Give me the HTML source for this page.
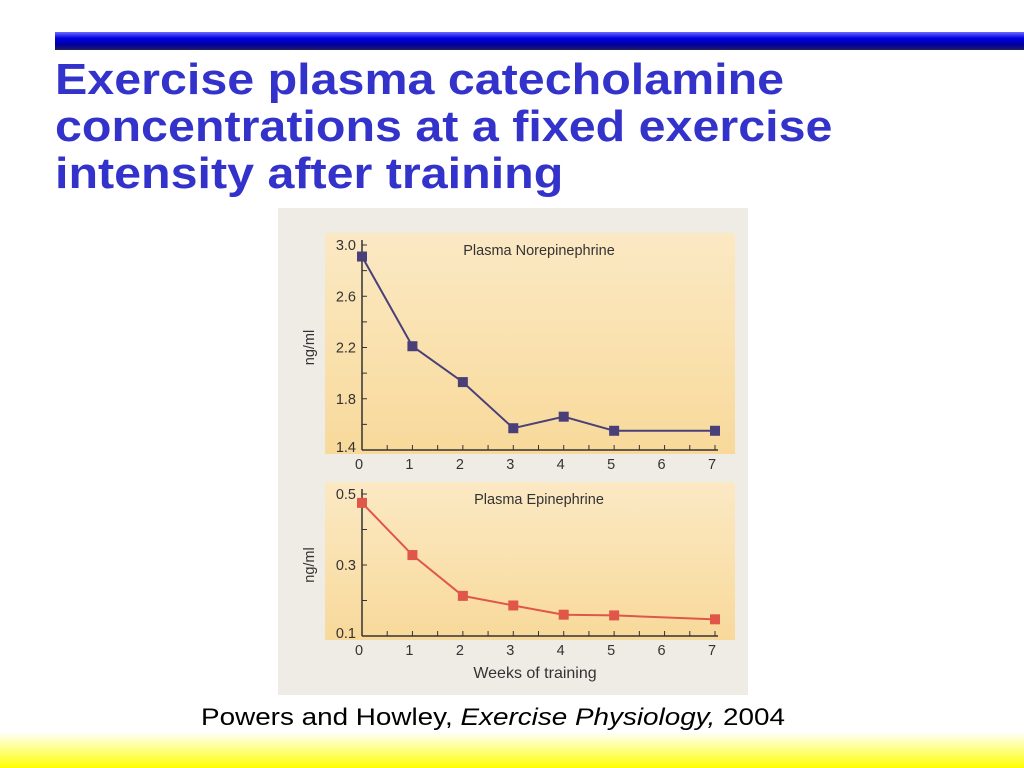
<!DOCTYPE html>
<html><head><meta charset="utf-8"><style>
body{margin:0;width:1024px;height:768px;background:#fff;position:relative;overflow:hidden;font-family:"Liberation Sans",sans-serif}
#bar{position:absolute;left:55px;top:32px;width:969px;height:18px;background:linear-gradient(180deg,#6a6aff 0%,#0000e0 35%,#0000a0 70%,#202060 100%)}
#title{position:absolute;left:55px;top:56px;color:#3333cc;font-weight:bold;font-size:44px;line-height:47px;transform:scaleX(1.1);transform-origin:left top;white-space:nowrap}
#foot{position:absolute;left:0;top:732px;width:1024px;height:36px;background:linear-gradient(180deg,#fff 0%,#ffff80 50%,#ffff00 100%)}
#cap{position:absolute;left:0;width:986px;text-align:center;top:704px;font-size:24px;transform:scaleX(1.16);transform-origin:493px 0}
</style></head><body>
<div id="bar"></div>
<div id="title">Exercise plasma catecholamine<br>concentrations at a fixed exercise<br>intensity after training</div>
<svg id="fig" style="position:absolute;left:0;top:0" width="1024" height="768"></svg>
<div id="cap">Powers and Howley, <i>Exercise Physiology,</i> 2004</div>
<div id="foot"></div>
<script>
const weeks=[0,1,2,3,4,5,7];
const norepi=[2.91,2.21,1.93,1.57,1.66,1.55,1.55];
const epi=[0.475,0.328,0.213,0.186,0.16,0.158,0.147];
const xTicks=[0,1,2,3,4,5,6,7];
const nTicks=[1.4,1.8,2.2,2.6,3.0];
const nMinor=[1.6,2.0,2.4,2.8];
const eTicks=[0.1,0.3,0.5];
const eMinor=[0.2,0.4];
const NS="http://www.w3.org/2000/svg";
const svg=document.getElementById('fig');
function mk(t,a,p){const e=document.createElementNS(NS,t);for(const k in a)e.setAttribute(k,a[k]);(p||svg).appendChild(e);return e;}
let bg=mk('rect',{x:278,y:208,width:470,height:487,fill:'#efece6'});

const defs=mk('defs',{});
const g=mk('linearGradient',{id:'pg',x1:0,y1:0,x2:0,y2:1},defs);
mk('stop',{offset:'0','stop-color':'#fbe9c4'},g);mk('stop',{offset:'1','stop-color':'#f8d99a'},g);
function panel(name,top,bottom,vmin,vmax,vals,ticks,minor,color,label){
  const x0=362,x1=715;
  const xs=w=>x0+(x1-x0)*w/7;
  const ys=v=>bottom-(bottom-top)*(v-vmin)/(vmax-vmin);
  let r=mk('rect',{x:325,y:top-12,width:410,height:bottom-top+16,fill:'url(#pg)'});
  
  mk('line',{x1:x0,y1:top-5,x2:x0,y2:bottom,stroke:'#333','stroke-width':1.5});
  mk('line',{x1:x0,y1:bottom,x2:x1+3,y2:bottom,stroke:'#333','stroke-width':1.5});
  ticks.forEach(v=>{mk('line',{x1:x0,y1:ys(v),x2:x0+5,y2:ys(v),stroke:'#333'});
    let t=mk('text',{x:x0-6,y:ys(v)+(v==vmin?2:5),'text-anchor':'end','font-size':14.5,fill:'#333'});t.textContent=v.toFixed(1);
    });
  minor.forEach(v=>mk('line',{x1:x0,y1:ys(v),x2:x0+5,y2:ys(v),stroke:'#333'}));
  for(let i=0;i<=14;i++){const xv=x0+(x1-x0)*i/14;mk('line',{x1:xv,y1:bottom,x2:xv,y2:bottom-5,stroke:'#333'});}
  xTicks.forEach(w=>{let t=mk('text',{x:xs(w)-3,y:bottom+19,'text-anchor':'middle','font-size':14.5,fill:'#333'});t.textContent=w;
    });
  let yl=mk('text',{x:314,y:(top+bottom)/2,'text-anchor':'middle','font-size':14.5,fill:'#333',transform:`rotate(-90 314 ${(top+bottom)/2})`});yl.textContent='ng/ml';
  
  let tt=mk('text',{x:539,y:top+10,'text-anchor':'middle','font-size':14.5,fill:'#333'});tt.textContent=label;
  
  let pts=weeks.map((w,i)=>xs(w)+','+ys(vals[i])).join(' ');
  let pl=mk('polyline',{points:pts,fill:'none',stroke:color,'stroke-width':2});
  
  weeks.forEach((w,i)=>{let m=mk('rect',{x:xs(w)-5,y:ys(vals[i])-5,width:10,height:10,fill:color});
    });
}
panel('norepinephrine',245,450,1.4,3.0,norepi,nTicks,nMinor,'#4a3f78','Plasma Norepinephrine');
panel('epinephrine',494,636,0.1,0.5,epi,eTicks,eMinor,'#e0574a','Plasma Epinephrine');
let xl=mk('text',{x:535,y:678,'text-anchor':'middle','font-size':16,fill:'#333'});xl.textContent='Weeks of training';

</script>
</body></html>
